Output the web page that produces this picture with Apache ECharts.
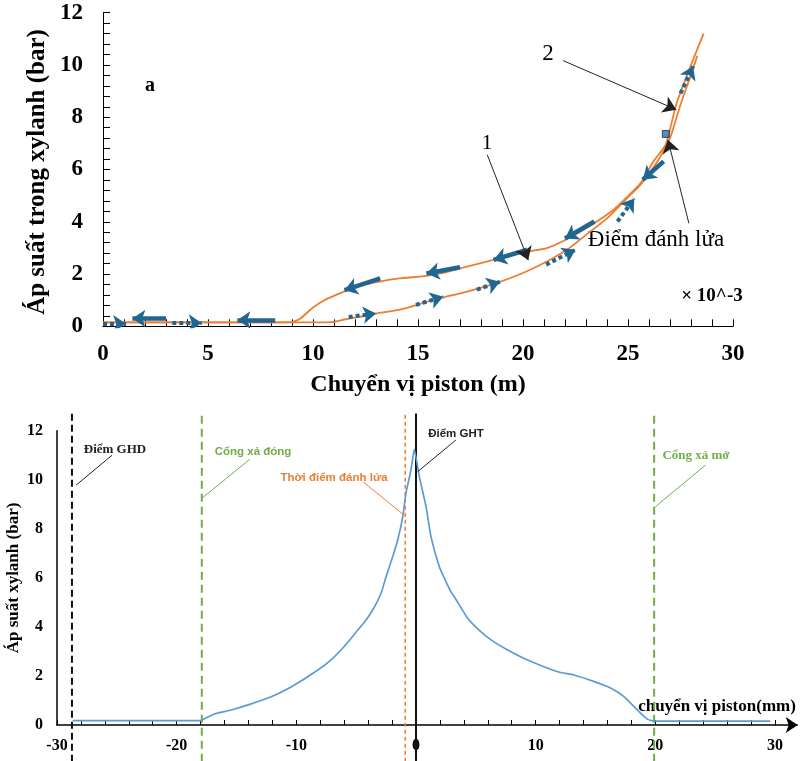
<!DOCTYPE html>
<html><head><meta charset="utf-8">
<script src="https://cdn.jsdelivr.net/npm/echarts@6/dist/echarts.min.js"></script>
<style>html,body{margin:0;padding:0;background:#fff}#c{width:801px;height:761px}</style>
</head><body><div id="c"></div>
<script>
// ---------- Panel a (top): pressure vs piston displacement (×10^-3 m) ----------
const curveUpper = [[0,0.15],[2,0.15],[4,0.15],[6,0.15],[8,0.15],[9,0.16],[9.4,0.3],[10,0.72],[10.5,0.98],[11.1,1.2],[11.8,1.43],[12.5,1.6],[13.3,1.73],[14.1,1.83],[15.4,1.93],[16.2,2.04],[17,2.22],[18.6,2.54],[20.2,2.86],[21.1,2.98],[22.1,3.34],[23.3,3.9],[24.3,4.45],[24.9,4.9],[25.6,5.48],[26.2,6.3],[26.8,6.96],[27.3,8.5],[27.95,9.9],[28.6,11.2]];
const curveLower = [[0,0.15],[5,0.15],[10,0.15],[10.9,0.16],[11.5,0.26],[12.2,0.36],[13,0.49],[14.1,0.63],[15,0.83],[15.7,1.01],[17.3,1.32],[18.9,1.7],[20.5,2.22],[22.1,2.93],[23,3.5],[24,4.13],[24.9,4.86],[25.6,5.42],[26.4,6.31],[27,7.2],[27.5,8.48],[28,9.63],[28.3,10.35]];
const arrowsUpper = [[[3.0,0.3],[1.4,0.3]],[[8.2,0.24],[6.4,0.24]],[[13.2,1.83],[11.5,1.38]],[[17.0,2.26],[15.4,2.02]],[[20.2,2.93],[18.6,2.54]],[[23.4,4.01],[22.0,3.36]],[[26.7,6.31],[25.7,5.61]]];
const arrowsLower = [[[0,0.1],[1.1,0.1]],[[3.3,0.13],[4.7,0.13]],[[11.7,0.36],[13.0,0.49]],[[14.9,0.82],[16.2,1.13]],[[17.8,1.4],[18.9,1.7]],[[21.1,2.36],[22.5,2.93]],[[24.5,4.01],[25.3,4.89]],[[27.5,8.91],[28.1,9.95]]];
const ignitionPoint = [[26.8,7.36]];
const pointerArrows = [[[18.3,6.56],[20.25,2.53]],[[21.9,10.17],[27.3,8.29]],[[27.9,3.94],[26.9,7.14]]];

// ---------- Panel b (bottom): pressure vs piston displacement (mm) ----------
const pistonPressure = [[-28.7,0.18],[-24,0.18],[-20,0.18],[-18,0.18],[-17.5,0.3],[-16.85,0.45],[-15.45,0.61],[-13.9,0.84],[-12.1,1.15],[-10.4,1.56],[-8.2,2.24],[-7.0,2.7],[-6.0,3.2],[-5.4,3.55],[-4.87,3.87],[-4.3,4.2],[-3.62,4.69],[-2.92,5.37],[-2.5,6.05],[-1.95,6.86],[-1.53,7.54],[-1.11,8.49],[-0.84,9.45],[-0.42,10.4],[-0.14,11.24],[0.28,10.12],[0.84,8.9],[1.25,7.68],[1.95,6.45],[2.5,5.85],[2.92,5.43],[3.2,5.23],[4.32,4.35],[5.2,3.9],[6.27,3.47],[7.66,3.06],[9.33,2.65],[11.84,2.17],[13.2,2.04],[14.9,1.77],[16.3,1.5],[17.4,1.15],[18.5,0.61],[19.36,0.23],[19.9,0.16],[25,0.16],[29.6,0.16]];
const vLineGHD = -28.75, vLineExhaustClose = -17.9, vLineIgnition = -0.9, vLineGHT = 0, vLineExhaustOpen = 19.9;
const vLineSpan = [-1.5, 12.7];
const leaderGHD = [[-25.4,11.0],[-28.4,9.78]];
const leaderClose = [[-13.9,10.83],[-17.9,9.24]];
const leaderIgn = [[-4.44,9.92],[-1.0,8.56]];
const leaderGHT = [[3.33,11.62],[0.14,10.33]];
const leaderOpen = [[24.2,10.6],[20.0,8.9]];
const axisArrowExt = [[30,0],[31.9,0]];

const serif = 'Liberation Serif, Times New Roman, serif';
const sans = 'Liberation Sans, Arial, sans-serif';
const BLACK = '#000';
const ORANGE = '#ED7D31';
const ARROW = '#1F6690';
const GREEN = '#70AD47';
const BLUE = '#5B9BD5';

const chart = echarts.init(document.getElementById('c'), null, {renderer:'canvas'});

function vline(x, color, width, dash){
  return {type:'line', xAxisIndex:1, yAxisIndex:1, clip:false, silent:true, showSymbol:false, symbol:'none',
    data:[[x, vLineSpan[0]],[x, vLineSpan[1]]],
    lineStyle:{color:color, width:width, type: dash}, z:3};
}

const option = {
  animation:false,
  grid:[
    {left:103, top:12.7, width:630, height:313.6},
    {left:57, top:430.7, width:718, height:294.3}
  ],
  xAxis:[
    {gridIndex:0, type:'value', min:0, max:30, interval:5,
     axisLine:{lineStyle:{color:BLACK,width:1}},
     axisTick:{show:true,inside:true,length:7,lineStyle:{color:BLACK}},
     minorTick:{show:true,splitNumber:5,length:7,lineStyle:{color:BLACK}},
     splitLine:{show:false},
     axisLabel:{color:BLACK, fontFamily:serif, fontWeight:'bold', fontSize:23, margin:16}},
    {gridIndex:1, type:'value', min:-30, max:30, interval:10,
     axisLine:{lineStyle:{color:BLACK,width:1.5}},
     axisTick:{show:true,inside:true,length:5,lineStyle:{color:BLACK}},
     minorTick:{show:true,splitNumber:5,length:5,lineStyle:{color:BLACK}},
     splitLine:{show:false},
     axisLabel:{color:BLACK, fontFamily:serif, fontWeight:'bold', fontSize:16, margin:13}}
  ],
  yAxis:[
    {gridIndex:0, type:'value', min:0, max:12, interval:2,
     axisLine:{show:true,onZero:false,lineStyle:{color:BLACK,width:1}},
     axisTick:{show:true,inside:true,length:7,lineStyle:{color:BLACK}},
     minorTick:{show:true,splitNumber:5,length:7,lineStyle:{color:BLACK}},
     splitLine:{show:false},
     axisLabel:{color:BLACK, fontFamily:serif, fontWeight:'bold', fontSize:23, margin:20}},
    {gridIndex:1, type:'value', min:0, max:12, interval:2,
     axisLine:{show:true,onZero:false,lineStyle:{color:BLACK,width:1.5}},
     axisTick:{show:false},
     splitLine:{show:false},
     axisLabel:{color:BLACK, fontFamily:serif, fontWeight:'bold', fontSize:16, margin:14}}
  ],
  series:[
    {type:'line', xAxisIndex:0, yAxisIndex:0, data:curveUpper, showSymbol:false, symbol:'none', smooth:0.2, lineStyle:{color:ORANGE,width:1.8}, z:2},
    {type:'line', xAxisIndex:0, yAxisIndex:0, data:curveLower, showSymbol:false, symbol:'none', smooth:0.2, lineStyle:{color:ORANGE,width:1.8}, z:2},
    {type:'lines', coordinateSystem:'cartesian2d', xAxisIndex:0, yAxisIndex:0, symbol:['none','arrow'], symbolSize:[11,13],
     lineStyle:{color:ARROW,width:4.5,opacity:1}, data:arrowsUpper.map(c=>({coords:c})), z:4},
    {type:'lines', coordinateSystem:'cartesian2d', xAxisIndex:0, yAxisIndex:0, symbol:['none','arrow'], symbolSize:[11,13],
     lineStyle:{color:ARROW,width:4,opacity:1,type:[4,3]}, data:arrowsLower.map(c=>({coords:c})), z:4},
    {type:'scatter', xAxisIndex:0, yAxisIndex:0, data:ignitionPoint, symbol:'rect', symbolSize:7,
     itemStyle:{color:'#2E6EB0', borderColor:'#1A2F4A', borderWidth:1}, z:6},
    {type:'lines', coordinateSystem:'cartesian2d', xAxisIndex:0, yAxisIndex:0, symbol:['none','arrow'], symbolSize:[10,13],
     lineStyle:{color:'#222',width:1,opacity:1}, data:pointerArrows.map(c=>({coords:c})), z:5},

    {type:'line', xAxisIndex:1, yAxisIndex:1, data:pistonPressure, showSymbol:false, symbol:'none', smooth:0.15, lineStyle:{color:BLUE,width:1.7}, z:4},
    vline(vLineGHD, '#111', 2, [7,4]),
    vline(vLineExhaustClose, GREEN, 2, [8,5]),
    vline(vLineIgnition, ORANGE, 1.5, [4,3]),
    vline(vLineGHT, '#111', 2, 'solid'),
    vline(vLineExhaustOpen, GREEN, 2, [8,5]),
    {type:'lines', coordinateSystem:'cartesian2d', xAxisIndex:1, yAxisIndex:1, symbol:'none', silent:true,
     data:[
       {coords:leaderGHD, lineStyle:{color:'#222'}},
       {coords:leaderClose, lineStyle:{color:GREEN}},
       {coords:leaderIgn, lineStyle:{color:ORANGE}},
       {coords:leaderGHT, lineStyle:{color:'#222'}},
       {coords:leaderOpen, lineStyle:{color:GREEN}}
     ], lineStyle:{width:1,opacity:1}, z:5},
    {type:'lines', coordinateSystem:'cartesian2d', xAxisIndex:1, yAxisIndex:1, clip:false, symbol:['none','arrow'], symbolSize:[8,12],
     data:[{coords:axisArrowExt}], lineStyle:{color:BLACK,width:1.5,opacity:1}, z:5}
  ],
  graphic:[
    {type:'text', x:38, y:172, rotation:Math.PI/2, style:{text:'Áp suất trong xylanh (bar)', font:'bold 25px '+serif, fill:BLACK, textAlign:'center', textVerticalAlign:'middle'}},
    {type:'text', x:418, y:385, style:{text:'Chuyển vị piston (m)', font:'bold 24px '+serif, fill:BLACK, textAlign:'center', textVerticalAlign:'middle'}},
    {type:'text', x:150, y:86, style:{text:'a', font:'bold 20px '+serif, fill:BLACK, textAlign:'center', textVerticalAlign:'middle'}},
    {type:'text', x:487, y:143, style:{text:'1', font:'22px '+serif, fill:BLACK, textAlign:'center', textVerticalAlign:'middle'}},
    {type:'text', x:548, y:54, style:{text:'2', font:'23px '+serif, fill:BLACK, textAlign:'center', textVerticalAlign:'middle'}},
    {type:'text', x:656, y:240, style:{text:'Điểm đánh lửa', font:'23px '+serif, fill:BLACK, textAlign:'center', textVerticalAlign:'middle'}},
    {type:'text', x:712, y:296, style:{text:'× 10^-3', font:'bold 19px '+serif, fill:BLACK, textAlign:'center', textVerticalAlign:'middle'}},

    {type:'text', x:14, y:578, rotation:Math.PI/2, style:{text:'Áp suất xylanh (bar)', font:'bold 17px '+serif, fill:BLACK, textAlign:'center', textVerticalAlign:'middle'}},
    {type:'text', x:115, y:450, style:{text:'Điểm GHD', font:'bold 13px '+serif, fill:'#222', textAlign:'center', textVerticalAlign:'middle'}},
    {type:'text', x:253, y:452, style:{text:'Cổng xả đóng', font:'bold 11.5px '+sans, fill:GREEN, textAlign:'center', textVerticalAlign:'middle'}},
    {type:'text', x:334, y:478, style:{text:'Thời điểm đánh lửa', font:'bold 11.5px '+sans, fill:ORANGE, textAlign:'center', textVerticalAlign:'middle'}},
    {type:'text', x:456, y:434, style:{text:'Điểm GHT', font:'bold 11.5px '+sans, fill:'#222', textAlign:'center', textVerticalAlign:'middle'}},
    {type:'text', x:696, y:456, style:{text:'Cổng xả mở', font:'bold 13px '+serif, fill:GREEN, textAlign:'center', textVerticalAlign:'middle'}},
    {type:'text', x:717, y:707, style:{text:'chuyển vị piston(mm)', font:'bold 17px '+serif, fill:BLACK, textAlign:'center', textVerticalAlign:'middle'}}
  ]
};
chart.setOption(option);
</script></body></html>
